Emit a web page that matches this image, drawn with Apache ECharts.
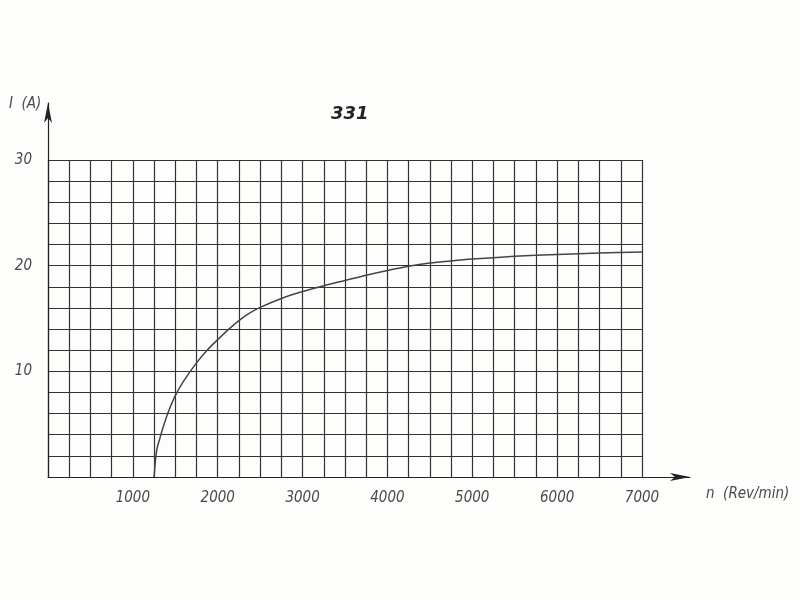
<!DOCTYPE html>
<html>
<head>
<meta charset="utf-8">
<script src="https://cdn.jsdelivr.net/npm/echarts@6/dist/echarts.min.js"></script>
<style>html,body{margin:0;padding:0;background:#fdfefc;}#c{width:800px;height:600px;}</style>
</head>
<body>
<div id="c"></div>
<script>
// Data
const speedRpm = [1250, 1280, 1320, 1360, 1420, 1500, 1600, 1750, 1875, 2000, 2125, 2250, 2375, 2500, 2750, 3000, 3250, 3500, 3750, 4000, 4250, 4500, 4750, 5000, 5500, 6000, 6500, 7000];
const currentA = [0, 2.5, 3.7, 4.8, 6.2, 7.7, 9.1, 10.8, 12.0, 13.0, 13.95, 14.8, 15.5, 16.05, 16.9, 17.55, 18.1, 18.6, 19.1, 19.55, 19.95, 20.25, 20.45, 20.62, 20.88, 21.06, 21.2, 21.3];
const xTickLabels = [1000, 2000, 3000, 4000, 5000, 6000, 7000];
const yTickLabels = [10, 20, 30];
const chartTitle = '331';
const xName = 'n  (Rev/min)';
const yName = 'I  (A)';

const fam = "'DejaVu Sans Condensed', 'Liberation Sans', sans-serif";
const labelFont = { fontFamily: fam, fontStyle: 'italic', fontWeight: 'normal', fontSize: 15, color: '#4a4a4a' };
const chart = echarts.init(document.getElementById('c'));
chart.setOption({
  backgroundColor: '#fdfefc',
  animation: false,
  title: [
    { text: chartTitle, left: 326, top: 100, textStyle: { fontFamily: 'DejaVu Sans', fontStyle: 'italic', fontWeight: 'bold', fontSize: 18, color: '#222' } },
    { text: yName, left: 4, top: 92, textStyle: Object.assign({}, labelFont, { fontSize: 15 }) },
    { text: xName, left: 701, top: 482, textStyle: Object.assign({}, labelFont, { fontSize: 15 }) }
  ],
  grid: [
    { left: 48, right: 158, top: 160, bottom: 123, containLabel: false },
    { left: 48, right: 110, top: 103, bottom: 123, containLabel: false }
  ],
  xAxis: [
    {
      type: 'value', gridIndex: 0, min: 0, max: 7000, interval: 250,
      axisLine: { show: false }, axisTick: { show: false },
      splitLine: { show: true, lineStyle: { color: '#333', width: 1.2 } },
      axisLabel: Object.assign({}, labelFont, {
        margin: 14,
        formatter: v => xTickLabels.includes(v) ? String(v) : ''
      })
    },
    {
      type: 'value', gridIndex: 1, min: 0, max: 1,
      axisLine: { show: true, symbol: ['none', 'arrow'], symbolSize: [6, 20], lineStyle: { color: '#222', width: 1.2 } },
      axisTick: { show: false }, axisLabel: { show: false }, splitLine: { show: false }
    }
  ],
  yAxis: [
    {
      type: 'value', gridIndex: 0, min: 0, max: 30, interval: 2,
      axisLine: { show: false }, axisTick: { show: false },
      splitLine: { show: true, lineStyle: { color: '#333', width: 1.2 } },
      axisLabel: Object.assign({}, labelFont, {
        margin: 16,
        formatter: v => yTickLabels.includes(v) ? String(v) : ''
      })
    },
    {
      type: 'value', gridIndex: 1, min: 0, max: 1,
      axisLine: { show: true, symbol: ['none', 'arrow'], symbolSize: [6, 20], lineStyle: { color: '#222', width: 1.2 } },
      axisTick: { show: false }, axisLabel: { show: false }, splitLine: { show: false }
    }
  ],
  series: [{
    type: 'line', xAxisIndex: 0, yAxisIndex: 0,
    data: speedRpm.map((n, i) => [n, currentA[i]]),
    smooth: 0.3, showSymbol: false,
    lineStyle: { color: '#444', width: 1.5 }
  }]
});
</script>
</body>
</html>
